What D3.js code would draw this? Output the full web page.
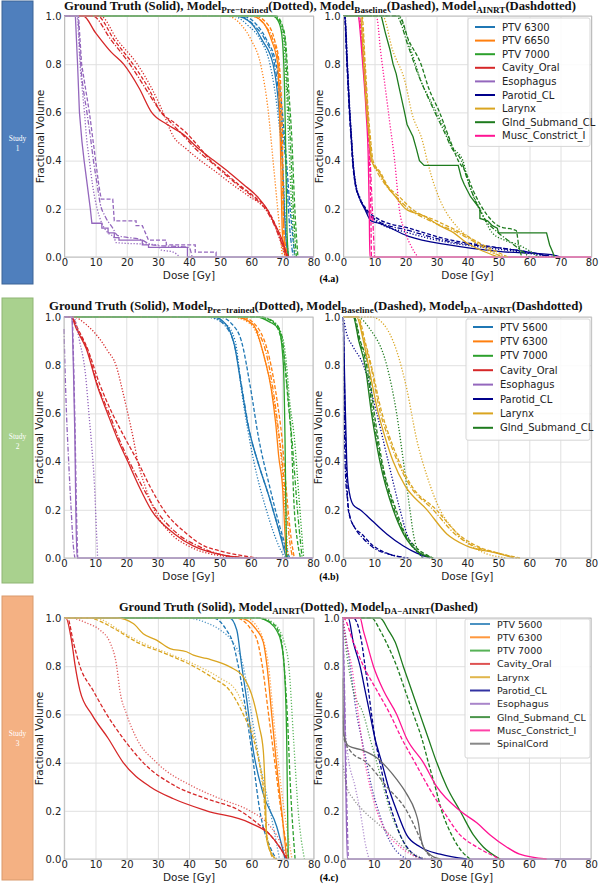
<!DOCTYPE html>
<html>
<head>
<meta charset="utf-8">
<script src="https://cdn.jsdelivr.net/npm/d3@7"></script>
<style>body{margin:0;background:#fff}</style>
</head>
<body>
<svg id="fig" width="600" height="884"></svg>
<script>
// tick labels shared by all six panels
var doseTicks = [0, 10, 20, 30, 40, 50, 60, 70, 80]
var volTicks = [0, 0.2, 0.4, 0.6, 0.8, 1.0]

// legend entries per study
var legendA = ["PTV 6300", "PTV 6650", "PTV 7000", "Cavity_Oral", "Esophagus", "Parotid_CL", "Larynx", "Glnd_Submand_CL", "Musc_Constrict_I"]
var legendB = ["PTV 5600", "PTV 6300", "PTV 7000", "Cavity_Oral", "Esophagus", "Parotid_CL", "Larynx", "Glnd_Submand_CL"]
var legendC = ["PTV 5600", "PTV 6300", "PTV 7000", "Cavity_Oral", "Larynx", "Parotid_CL", "Esophagus", "Glnd_Submand_CL", "Musc_Constrict_I", "SpinalCord"]

// DVH curves: [structure, line style, [[dose, fractional volume], ...]]
var dvhA_left = [
  ["PTV 6300", "solid",   [[0,1],[55,1],[60,0.97],[63.5,0.9],[67,0.8],[69,0.6],[70,0.4],[71,0.1],[72,0]]],
  ["PTV 6300", "dotted",  [[0,1],[54,1],[59,0.96],[63,0.9],[66,0.8],[68.5,0.6],[70,0.4],[71,0.15],[72,0]]],
  ["PTV 6300", "dashed",  [[0,1],[57,1],[62,0.96],[65,0.9],[68,0.8],[70,0.6],[71,0.45],[72.5,0.2],[74,0]]],
  ["PTV 6300", "dashdot", [[0,1],[56,1],[61,0.96],[64.5,0.9],[67.5,0.8],[69.5,0.6],[71,0.4],[72.5,0.1],[73.5,0]]],
  ["PTV 6650", "solid",   [[0,1],[60,1],[64,0.97],[66.5,0.9],[68.5,0.8],[69.3,0.5],[70,0.1],[71,0]]],
  ["PTV 6650", "dotted",  [[0,1],[52,1],[57,0.96],[60,0.9],[63,0.8],[65.5,0.6],[67,0.4],[68.5,0.2],[70,0]]],
  ["PTV 6650", "dashed",  [[0,1],[61,1],[65,0.97],[67.5,0.9],[69,0.8],[70,0.5],[70.5,0.1],[72,0]]],
  ["PTV 6650", "dashdot", [[0,1],[60,1],[64.5,0.96],[67,0.9],[68.8,0.8],[69.7,0.5],[70.5,0.1],[71.5,0]]],
  ["PTV 7000", "solid",   [[0,1],[67,1],[69,0.97],[70,0.9],[70.7,0.7],[71,0.5],[71.5,0.1],[72,0]]],
  ["PTV 7000", "dotted",  [[0,1],[67,1],[69.5,0.96],[70.5,0.9],[71.3,0.7],[72,0.5],[73,0.2],[74,0]]],
  ["PTV 7000", "dashed",  [[0,1],[68,1],[70,0.96],[71,0.9],[72,0.7],[73,0.5],[74,0.2],[75,0]]],
  ["PTV 7000", "dashdot", [[0,1],[67.5,1],[69.8,0.96],[70.8,0.9],[71.6,0.7],[72.5,0.5],[73.5,0.2],[74.5,0]]],
  ["Cavity_Oral", "solid",   [[0,1],[6,1],[10,0.93],[15,0.85],[19,0.8],[24,0.7],[28,0.6],[33,0.55],[38,0.51],[43,0.45],[48,0.4],[53,0.35],[57.6,0.3],[62,0.25],[65,0.2],[67,0.15],[69,0.1],[70.5,0.05],[71.5,0]]],
  ["Cavity_Oral", "dotted",  [[0,1],[11.5,1],[17,0.9],[23.4,0.8],[28,0.7],[31,0.62],[35,0.5],[39,0.45],[43.7,0.4],[49,0.35],[54,0.3],[59.5,0.25],[64.5,0.2],[67,0.15],[69,0.08],[71,0]]],
  ["Cavity_Oral", "dashed",  [[0,1],[10.5,1],[16,0.9],[22,0.8],[27,0.7],[31,0.6],[35,0.56],[39.5,0.51],[43,0.46],[47,0.4],[51.5,0.35],[56,0.3],[61,0.25],[65,0.2],[67.5,0.14],[69.5,0.07],[72,0]]],
  ["Cavity_Oral", "dashdot", [[0,1],[9,1],[15,0.9],[21,0.8],[26,0.7],[30,0.62],[34,0.56],[38.5,0.5],[42,0.45],[46.5,0.4],[51,0.35],[55.5,0.3],[60.5,0.25],[64.5,0.2],[67.5,0.13],[70,0.05],[71.5,0]]],
  ["Esophagus", "solid",   [[0,1],[3.5,1],[4.2,0.8],[4.8,0.6],[5.6,0.48],[6.3,0.4],[7.3,0.3],[8.3,0.2],[8.8,0.14],[12,0.14],[12,0.12],[14,0.12],[14,0.1],[16,0.1],[16,0.08],[17.5,0.08],[17.5,0.07],[25,0.07],[25,0.05],[27,0.05],[27,0.04],[39.5,0.04],[39.5,0],[80,0]]],
  ["Esophagus", "dotted",  [[0,1],[4,1],[5,0.8],[6.4,0.6],[7.2,0.48],[8,0.4],[9,0.3],[10.5,0.2],[12,0.14],[14,0.1],[16,0.08],[16.5,0.06],[30,0.05],[31,0.03],[35,0.02],[37,0]]],
  ["Esophagus", "dashed",  [[0,1],[4.5,1],[5.5,0.8],[8,0.6],[9,0.5],[10,0.4],[11,0.3],[11.8,0.24],[15.5,0.24],[16,0.15],[23,0.15],[23,0.13],[25,0.13],[27,0.07],[32.7,0.07],[32.7,0.05],[42,0.05],[42,0.02],[48.7,0.02],[48.7,0]]],
  ["Esophagus", "dashdot", [[0,1],[4.2,1],[5.2,0.8],[7.2,0.6],[8.3,0.5],[9.3,0.4],[10.5,0.3],[11.5,0.22],[13,0.17],[15.5,0.12],[17,0.09],[25,0.07],[28,0.05],[40,0.04],[41,0]]]
]

var dvhA_right = [
  ["Parotid_CL", "solid",   [[0,1],[0.4,1],[1.2,0.8],[2,0.6],[2.6,0.48],[3,0.4],[3.9,0.3],[5,0.25],[6.8,0.2],[8.9,0.15],[11.6,0.14],[21,0.086],[34,0.05],[50,0.023],[67,0.01],[70,0]]],
  ["Parotid_CL", "dotted",  [[0,1],[0.5,1],[1.3,0.8],[2.1,0.6],[2.7,0.48],[3.1,0.4],[4,0.3],[5.2,0.25],[7,0.2],[11,0.145],[21,0.1],[34,0.06],[45,0.04],[60,0.015],[66,0]]],
  ["Parotid_CL", "dashed",  [[0,1],[0.3,1],[1.1,0.8],[1.9,0.6],[2.5,0.48],[2.9,0.4],[3.8,0.3],[5,0.25],[7.3,0.2],[11.6,0.155],[21,0.12],[34,0.072],[43.6,0.051],[61,0.017],[68,0]]],
  ["Parotid_CL", "dashdot", [[0,1],[0.4,1],[1.2,0.8],[2,0.6],[2.6,0.48],[3,0.4],[3.9,0.3],[5,0.25],[7,0.2],[11,0.15],[21,0.11],[34,0.065],[45,0.045],[60,0.02],[67,0]]],
  ["Musc_Constrict_I", "solid",   [[0,1],[4.6,1],[6.2,0.8],[7.3,0.6],[8,0.4],[8.3,0.2],[8.5,0],[80,0]]],
  ["Musc_Constrict_I", "dotted",  [[0,1],[10.6,1],[12,0.85],[13.5,0.7],[15,0.55],[16.5,0.4],[18,0.2],[20,0.1],[22,0.04],[24,0]]],
  ["Musc_Constrict_I", "dashed",  [[0,1],[5,1],[6.6,0.8],[7.7,0.6],[8.4,0.4],[8.8,0.2],[9,0]]],
  ["Musc_Constrict_I", "dashdot", [[0,1],[4.8,1],[6.4,0.8],[7.5,0.6],[8.6,0.4],[9.3,0.2],[10,0]]],
  ["Larynx", "solid",   [[0,1],[5.5,1],[6.5,0.8],[7.5,0.6],[8.4,0.48],[9,0.4],[11.6,0.35],[13.7,0.3],[16.8,0.25],[20,0.2],[26,0.17],[31,0.13],[35.6,0.1],[39.6,0.06],[44,0.03],[50,0]]],
  ["Larynx", "dotted",  [[0,1],[12.6,1],[15.8,0.86],[20,0.72],[22,0.6],[25.5,0.48],[27,0.4],[28.5,0.33],[31,0.24],[36.3,0.13],[41.7,0.07],[46,0.03],[53,0]]],
  ["Larynx", "dashed",  [[0,1],[6,1],[7,0.8],[8,0.6],[8.8,0.48],[9.5,0.4],[12,0.35],[14,0.3],[18,0.25],[22,0.2],[30,0.15],[38,0.1],[45,0.05],[53,0]]],
  ["Larynx", "dashdot", [[0,1],[5.8,1],[6.8,0.8],[7.8,0.6],[8.6,0.48],[9.3,0.4],[11,0.35],[13.5,0.3],[17,0.25],[21,0.2],[28,0.15],[37,0.1],[44,0.05],[51,0]]],
  ["Glnd_Submand_CL", "solid",   [[0,1],[12.2,1],[13.5,0.93],[15,0.86],[16,0.8],[17,0.76],[18,0.7],[19.7,0.6],[20.5,0.55],[22.4,0.5],[23.5,0.45],[24.5,0.4],[26,0.38],[37,0.38],[38,0.33],[39,0.3],[41,0.25],[44,0.2],[44,0.16],[46.5,0.15],[48,0.13],[49.6,0.12],[50,0.1],[65.5,0.1],[66.5,0.05],[67.5,0.02],[68,0]]],
  ["Glnd_Submand_CL", "dotted",  [[0,1],[17.5,1],[22,0.85],[25,0.73],[28,0.65],[30,0.6],[33,0.52],[35,0.46],[38.5,0.4],[40.5,0.3],[44,0.2],[48,0.1],[52,0.07],[56.5,0.05],[63,0]]],
  ["Glnd_Submand_CL", "dashed",  [[0,1],[18,1],[21,0.9],[25,0.8],[27.5,0.7],[31,0.6],[34.5,0.48],[37,0.4],[39.5,0.35],[41.7,0.28],[46,0.18],[50.3,0.127],[55.7,0.11],[56.5,0.05],[57.5,0]]],
  ["Glnd_Submand_CL", "dashdot", [[0,1],[17,1],[21,0.87],[24,0.76],[27,0.67],[29.5,0.6],[32.5,0.52],[35,0.45],[38,0.4],[40,0.32],[43,0.22],[46,0.15],[50,0.1],[54,0.06],[60,0]]]
]

var dvhB_left = [
  ["PTV 5600", "solid",   [[0,1],[48,1],[52,0.97],[54.8,0.88],[57,0.71],[59,0.56],[62,0.41],[65.5,0.27],[68.7,0.13],[71.4,0]]],
  ["PTV 5600", "dotted",  [[0,1],[45,1],[52,0.97],[55,0.9],[57,0.7],[61,0.4],[65,0.2],[69,0.05],[71,0]]],
  ["PTV 5600", "dashed",  [[0,1],[50,1],[54,0.97],[57,0.9],[60,0.7],[62.5,0.5],[66,0.3],[70,0.1],[72.5,0]]],
  ["PTV 5600", "dashdot", [[0,1],[47,1],[52,0.96],[55,0.87],[57.5,0.68],[59.5,0.53],[62.5,0.39],[66,0.25],[69,0.12],[72,0]]],
  ["PTV 6300", "solid",   [[0,1],[55,1],[60.7,0.97],[64.4,0.83],[66.6,0.7],[68,0.56],[69,0.42],[70.3,0.28],[71,0.1],[71.5,0]]],
  ["PTV 6300", "dotted",  [[0,1],[54,1],[60,0.97],[65,0.8],[68,0.6],[70.5,0.3],[71.5,0.1],[72,0]]],
  ["PTV 6300", "dashed",  [[0,1],[57,1],[62,0.96],[66.5,0.8],[68.5,0.65],[70,0.5],[71,0.35],[72,0.2],[73,0.08],[74,0]]],
  ["PTV 6300", "dashdot", [[0,1],[56,1],[61,0.96],[65.5,0.82],[67.5,0.67],[69,0.52],[70.5,0.35],[71.5,0.2],[72.5,0.07],[73.5,0]]],
  ["PTV 7000", "solid",   [[0,1],[62,1],[66,0.98],[69,0.95],[70.5,0.8],[71,0.5],[71.3,0.2],[71.5,0]]],
  ["PTV 7000", "dotted",  [[0,1],[63,1],[68,0.97],[70.5,0.9],[71.5,0.8],[72.5,0.65],[74,0.5],[75.5,0.25],[77,0]]],
  ["PTV 7000", "dashed",  [[0,1],[63,1],[67,0.98],[70,0.9],[71,0.8],[72,0.65],[73,0.5],[74,0.2],[75,0.07],[76,0]]],
  ["PTV 7000", "dashdot", [[0,1],[63,1],[67.5,0.98],[70,0.92],[71,0.8],[72.5,0.6],[73.5,0.45],[75,0.2],[76.5,0]]],
  ["Cavity_Oral", "solid",   [[0,1],[2.3,1],[4,0.95],[7.1,0.87],[10.8,0.71],[14,0.6],[17,0.5],[20.5,0.4],[24,0.3],[28,0.2],[35.5,0.1],[41.5,0.05],[52,0.01],[60,0]]],
  ["Cavity_Oral", "dotted",  [[0,1],[3,1],[7,0.97],[10.8,0.92],[14,0.86],[16.7,0.8],[18.7,0.7],[20.5,0.6],[22.2,0.5],[23.7,0.4],[26,0.3],[29,0.2],[34.4,0.1],[40,0.05],[50,0.01],[60,0]]],
  ["Cavity_Oral", "dashed",  [[0,1],[2.5,1],[4.5,0.95],[7.5,0.87],[11.5,0.72],[15.5,0.6],[19.5,0.5],[23.7,0.4],[27.5,0.3],[32,0.2],[39.5,0.1],[45,0.05],[50,0.03],[62,0]]],
  ["Cavity_Oral", "dashdot", [[0,1],[2.4,1],[4.2,0.95],[7.3,0.87],[11,0.71],[14.5,0.6],[17.5,0.5],[21,0.4],[25,0.3],[29.5,0.2],[36.5,0.1],[43,0.05],[52,0.01],[60,0]]],
  ["Esophagus", "solid",   [[0,1],[2.5,1],[3,0.8],[3.5,0.5],[3.8,0.2],[4.2,0],[80,0]]],
  ["Esophagus", "dotted",  [[0,1],[3,1],[5,0.9],[7,0.75],[8,0.6],[9,0.45],[9.8,0.3],[10.4,0.12],[10.8,0]]],
  ["Esophagus", "dashed",  [[0,1],[2.6,1],[3.1,0.8],[3.6,0.5],[4,0.2],[4.4,0]]],
  ["Esophagus", "dashdot", [[0,0.95],[0.3,0.8],[0.8,0.6],[1.5,0.4],[2.3,0.2],[3,0.05],[3.5,0]]]
]

var dvhB_right = [
  ["Parotid_CL", "solid",   [[0,1],[0.5,0.7],[1.1,0.4],[1.6,0.3],[3.2,0.22],[5.4,0.2],[9.7,0.15],[14,0.1],[19.4,0.05],[23.7,0.02],[28,0]]],
  ["Parotid_CL", "dotted",  [[0,1],[1.1,0.93],[3,0.88],[6.5,0.8],[10.8,0.6],[14.5,0.4],[18.3,0.2],[20.5,0.1],[23,0.04],[26,0]]],
  ["Parotid_CL", "dashed",  [[0,1],[0.4,0.7],[0.9,0.4],[1.2,0.3],[1.6,0.2],[3.5,0.13],[5.9,0.1],[9.7,0.05],[14,0.02],[20,0]]],
  ["Parotid_CL", "dashdot", [[0,1],[0.3,0.6],[0.7,0.35],[1.3,0.25],[2,0.18],[4,0.12],[6.5,0.08],[10,0.04],[15,0.015],[21,0]]],
  ["Glnd_Submand_CL", "solid",   [[0,1],[3.2,1],[5,0.9],[7,0.8],[9.1,0.6],[11.8,0.4],[16.1,0.2],[19.4,0.1],[23.7,0.03],[29,0]]],
  ["Glnd_Submand_CL", "dotted",  [[0,1],[4.3,1],[8.6,0.95],[14,0.8],[17.2,0.6],[19.4,0.4],[21.5,0.2],[22.6,0.1],[24,0.03],[25.8,0]]],
  ["Glnd_Submand_CL", "dashed",  [[0,1],[3.5,1],[5.5,0.9],[8,0.8],[10,0.6],[12.5,0.4],[17,0.2],[20,0.1],[23,0.05],[29,0]]],
  ["Glnd_Submand_CL", "dashdot", [[0,1],[3.3,1],[5.2,0.9],[7.5,0.8],[9.5,0.6],[12.2,0.4],[16.5,0.2],[19.7,0.1],[23.5,0.03],[29,0]]],
  ["Larynx", "solid",   [[0,1],[4.3,1],[6.5,0.9],[8.1,0.8],[11.3,0.6],[13.5,0.5],[16.1,0.4],[19.9,0.3],[27,0.2],[33.4,0.1],[39.8,0.05],[49.5,0.02],[55,0]]],
  ["Larynx", "dotted",  [[0,1],[9,1],[13,0.97],[17.2,0.86],[20.5,0.7],[23.7,0.49],[27,0.34],[31.2,0.2],[35.5,0.12],[44,0.03],[52.7,0]]],
  ["Larynx", "dashed",  [[0,1],[4.8,1],[7,0.9],[9,0.8],[12.5,0.6],[15,0.5],[18,0.4],[22,0.3],[30,0.2],[37,0.1],[43,0.05],[50,0.02],[57,0]]],
  ["Larynx", "dashdot", [[0,1],[4.5,1],[6.8,0.9],[8.8,0.8],[12,0.6],[14.5,0.5],[17.5,0.4],[21.5,0.3],[29,0.2],[36,0.1],[42,0.05],[50,0.02],[56,0]]]
]

var dvhC_left = [
  ["PTV 5600", "solid",  [[0,1],[53,1],[55.3,0.95],[56.9,0.8],[58.5,0.66],[60.6,0.45],[63.8,0.27],[68.1,0.135],[70.8,0]]],
  ["PTV 5600", "dotted", [[0,1],[39,1],[45.6,0.98],[50,0.95],[54,0.9],[57.4,0.8],[60,0.6],[62.7,0.4],[66,0.2],[69,0]]],
  ["PTV 5600", "dashed", [[0,1],[47.8,1],[52,0.95],[54,0.9],[55.8,0.8],[58.4,0.6],[60.6,0.4],[62.7,0.2],[66,0.05],[68,0]]],
  ["PTV 6300", "solid",  [[0,1],[56.3,1],[61.7,0.95],[63.8,0.9],[65,0.8],[66.5,0.6],[68,0.4],[69.7,0.2],[71.3,0]]],
  ["PTV 6300", "dotted", [[0,1],[58,1],[62.5,0.95],[64,0.9],[65.5,0.8],[67,0.6],[69.5,0.3],[73,0]]],
  ["PTV 6300", "dashed", [[0,1],[55,1],[60,0.95],[62,0.9],[63.5,0.8],[65.5,0.6],[67.5,0.4],[69.5,0.2],[72,0]]],
  ["PTV 7000", "solid",  [[0,1],[62,1],[66,0.98],[68,0.95],[69.5,0.9],[70.5,0.8],[71.3,0.5],[71.8,0]]],
  ["PTV 7000", "dotted", [[0,1],[63,1],[67,0.98],[69,0.95],[70.5,0.9],[72,0.8],[73.5,0.5],[75,0.2],[77,0]]],
  ["PTV 7000", "dashed", [[0,1],[62,1],[66.5,0.98],[68.5,0.95],[69.7,0.9],[70.5,0.8],[71.5,0.6],[72.5,0.3],[74,0]]],
  ["Cavity_Oral", "solid",  [[0,1],[0.5,1],[2.4,0.9],[3.5,0.8],[5,0.7],[8.8,0.6],[14.1,0.5],[18.9,0.4],[27.5,0.3],[35,0.25],[45.6,0.2],[59.5,0.15],[66,0.1],[69,0.05],[71.3,0]]],
  ["Cavity_Oral", "dotted", [[0,1],[2,1],[7,0.98],[11.4,0.95],[14.6,0.9],[16.8,0.8],[17.8,0.7],[20,0.6],[23.2,0.5],[29.6,0.4],[41.4,0.3],[50,0.25],[59.5,0.2],[65,0.15],[68,0.1],[70,0.05],[72,0]]],
  ["Cavity_Oral", "dashed", [[0,1],[1,1],[2.9,0.9],[5,0.8],[9.2,0.7],[13.6,0.6],[18.9,0.5],[25.3,0.4],[36,0.3],[45.6,0.25],[56.3,0.2],[61.7,0.15],[66,0.1],[69,0.05],[71.5,0]]],
  ["Larynx", "solid",  [[0,1],[16.8,1],[22.1,0.977],[25.3,0.935],[29.6,0.908],[33.9,0.873],[39.2,0.86],[41.4,0.846],[45.6,0.832],[53.1,0.797],[57.4,0.756],[60.6,0.66],[62.5,0.55],[63.8,0.45],[64.5,0.25],[64.9,0.08],[67,0.01],[68,0]]],
  ["Larynx", "dotted", [[0,1],[10,1],[14,0.98],[17.5,0.95],[24.5,0.9],[34,0.85],[43,0.8],[50,0.75],[55,0.7],[58.5,0.6],[61,0.5],[62.5,0.4],[64,0.25],[65,0.1],[67.5,0]]],
  ["Larynx", "dashed", [[0,1],[8.2,1],[12.5,0.98],[16.8,0.95],[23.2,0.9],[32.8,0.85],[41.4,0.8],[47.8,0.75],[53,0.7],[57.4,0.6],[60.6,0.5],[62.5,0.4],[63.8,0.3],[64.9,0.1],[67,0]]]
]

var dvhC_right = [
  ["Esophagus", "solid",  [[0,1],[0.5,0.7],[1,0.3],[1.5,0],[80,0]]],
  ["Esophagus", "dotted", [[0,1],[0.5,0.62],[1.5,0.45],[4,0.3],[5.6,0.2],[7.5,0.05],[8.5,0]]],
  ["Esophagus", "dashed", [[0,1],[0.6,0.7],[1.2,0.3],[1.8,0]]],
  ["Parotid_CL", "solid",  [[0,1],[1.8,1],[3.4,0.9],[5.6,0.8],[7.2,0.7],[8.8,0.6],[10.4,0.5],[12.6,0.4],[14.7,0.3],[17.4,0.2],[20.6,0.1],[25,0.05],[31.4,0.02],[40,0]]],
  ["Parotid_CL", "dotted", [[0,1],[2.4,0.8],[4.5,0.6],[6.1,0.5],[7.7,0.4],[9.3,0.3],[11.5,0.2],[14.2,0.1],[16.3,0.05],[20.6,0]]],
  ["Parotid_CL", "dashed", [[0,1],[3.4,1],[6.1,0.9],[7.2,0.8],[8.3,0.7],[9.3,0.6],[10.4,0.5],[12,0.4],[13.6,0.3],[15.8,0.2],[18.5,0.1],[22.8,0.02],[26,0]]],
  ["Glnd_Submand_CL", "solid",  [[0,1],[12,1],[14.7,0.95],[16.9,0.9],[19.5,0.8],[22.2,0.7],[24.9,0.6],[27.6,0.5],[30.3,0.4],[33.5,0.3],[37.8,0.2],[42.1,0.1],[45.3,0.05],[50.7,0]]],
  ["Glnd_Submand_CL", "dotted", [[0,1],[1.3,0.85],[3.4,0.7],[6.7,0.6],[8.8,0.5],[11,0.4],[13.1,0.3],[15.3,0.2],[18.5,0.1],[20.5,0.05],[25,0]]],
  ["Glnd_Submand_CL", "dashed", [[0,1],[9.3,1],[12,0.95],[14,0.9],[17.4,0.8],[20.1,0.7],[22.8,0.6],[25.5,0.5],[27.6,0.4],[29.8,0.3],[31.9,0.2],[35.1,0.1],[37.3,0.05],[41,0]]],
  ["Musc_Constrict_I", "solid",  [[0,1],[5.6,1],[6.6,0.95],[7.7,0.9],[9.9,0.8],[13.1,0.7],[17.4,0.6],[20.6,0.5],[26,0.4],[30.3,0.3],[37.8,0.2],[43.2,0.15],[47.5,0.1],[52.8,0.05],[57,0.02],[65.7,0]]],
  ["Musc_Constrict_I", "dotted", [[0,1],[1.2,0.9],[2.9,0.8],[5,0.6],[7.2,0.4],[8.8,0.3],[11,0.2],[14.7,0.1],[18.5,0.05],[25,0]]],
  ["Musc_Constrict_I", "dashed", [[0,1],[0.2,1],[3.4,0.9],[6.7,0.8],[11,0.7],[15.3,0.6],[19,0.5],[23.3,0.4],[27.6,0.3],[32.4,0.2],[37.8,0.1],[43.2,0.05],[50.7,0]]],
  ["SpinalCord", "solid",  [[0,0.75],[0.3,0.52],[1.8,0.47],[6.7,0.45],[11,0.42],[14.2,0.38],[17.4,0.33],[20.6,0.27],[23.3,0.2],[24.4,0.15],[25,0.1],[26,0.05],[28,0.02],[31.4,0]]],
  ["SpinalCord", "dotted", [[0,0.4],[1.3,0.3],[3.4,0.25],[6.7,0.2],[11,0.15],[15.3,0.1],[19.5,0.05],[23,0.02],[27,0]]],
  ["SpinalCord", "dashed", [[0,0.6],[0.4,0.5],[2.4,0.45],[7.7,0.4],[14.2,0.3],[20.6,0.2],[24.4,0.1],[26,0.05],[29,0]]]
]

var ptvPalette = ["#1f77b4", "#ff7f0e", "#2ca02c"]
var organColor = {
  "Cavity_Oral": "#d62728", "Esophagus": "#9467bd", "Parotid_CL": "#00008b",
  "Larynx": "#daa520", "Glnd_Submand_CL": "#1e7b1e", "Musc_Constrict_I": "#ff1493",
  "SpinalCord": "#6b6b6b"
}
var dashes = {solid: null, dotted: "1.2,1.8", dashed: "4,2", dashdot: "5,1.8,1.2,1.8"}

var svg = d3.select("#fig")
var sans = "'DejaVu Sans', sans-serif"
var serif = "'Liberation Serif', 'Times New Roman', serif"

function colorOf(name, legend) {
  if (name.indexOf("PTV") === 0) return ptvPalette[legend.indexOf(name)]
  return organColor[name]
}

// side label box for each study
function studyBox(y0, y1, fill, stroke, num) {
  svg.append("rect")
    .attr("x", 2).attr("y", y0)
    .attr("width", 31).attr("height", y1 - y0)
    .attr("fill", fill).attr("stroke", stroke).attr("stroke-width", 1)
  var cy = (y0 + y1) / 2
  svg.append("text").attr("x", 17.5).attr("y", cy - 2)
    .attr("text-anchor", "middle").attr("font-family", serif)
    .attr("font-size", "7.5px").attr("fill", "#fff").text("Study")
  svg.append("text").attr("x", 17.5).attr("y", cy + 8)
    .attr("text-anchor", "middle").attr("font-family", serif)
    .attr("font-size", "7.5px").attr("fill", "#fff").text(num)
}

// title with subscripts, scaled so it spans xl..xr
function title(parts, xl, xr, yb) {
  var t = svg.append("text").attr("y", yb)
    .attr("font-family", serif).attr("font-weight", "bold").attr("fill", "#111")
  function build(fs) {
    t.selectAll("*").remove()
    t.attr("x", xl).attr("font-size", fs + "px")
    var prevSub = false
    parts.forEach(function(p) {
      var isSub = typeof p !== "string"
      var dy = isSub ? (prevSub ? 0 : fs * 0.25) : (prevSub ? -fs * 0.25 : 0)
      t.append("tspan").attr("dy", dy)
        .attr("font-size", isSub ? (fs * 0.72) + "px" : fs + "px")
        .text(isSub ? p[0] : p)
      prevSub = isSub
    })
  }
  build(13)
  var len = t.node().getComputedTextLength()
  build(13 * (xr - xl) / len)
}

function panel(cfg) {
  var x = d3.scaleLinear().domain([0, 80]).range([cfg.x0, cfg.x1])
  var y = d3.scaleLinear().domain([0, 1]).range([cfg.yb, cfg.yt])
  var h = cfg.yb - cfg.yt, w = cfg.x1 - cfg.x0
  var g = svg.append("g")

  // grid
  g.append("g").attr("transform", "translate(0," + cfg.yb + ")")
    .call(d3.axisBottom(x).tickValues(doseTicks).tickSize(-h).tickFormat(""))
    .call(function(a) { a.select(".domain").remove(); a.selectAll("line").attr("stroke", "#e0e0e0") })
  g.append("g").attr("transform", "translate(" + cfg.x0 + ",0)")
    .call(d3.axisLeft(y).tickValues(volTicks).tickSize(-w).tickFormat(""))
    .call(function(a) { a.select(".domain").remove(); a.selectAll("line").attr("stroke", "#e0e0e0") })

  // curves
  var clipId = "clip" + cfg.id
  svg.append("clipPath").attr("id", clipId).append("rect")
    .attr("x", cfg.x0 - 1).attr("y", cfg.yt - 2).attr("width", w + 2).attr("height", h + 3)
  var cg = g.append("g").attr("clip-path", "url(#" + clipId + ")")
  cfg.curves.forEach(function(c) {
    var pts = c[2]
    var stepped = pts.some(function(p, i) { return i > 0 && p[0] === pts[i - 1][0] })
    var line = d3.line()
      .x(function(d) { return x(d[0]) })
      .y(function(d) { return y(d[1]) })
      .curve(stepped ? d3.curveLinear : d3.curveMonotoneX)
    cg.append("path").attr("d", line(pts))
      .attr("fill", "none")
      .attr("stroke", colorOf(c[0], cfg.legend))
      .attr("stroke-width", 1.3)
      .attr("stroke-dasharray", dashes[c[1]])
      .attr("opacity", c[1] === "dotted" ? cfg.dotAlpha : 1)
  })

  // frame
  g.append("rect").attr("x", cfg.x0).attr("y", cfg.yt).attr("width", w).attr("height", h)
    .attr("fill", "none").attr("stroke", "#bdbdbd").attr("stroke-width", 1)

  // tick labels
  g.append("g").attr("transform", "translate(0," + cfg.yb + ")")
    .call(d3.axisBottom(x).tickValues(doseTicks).tickSize(0).tickPadding(2))
    .call(function(a) {
      a.select(".domain").remove()
      a.selectAll("text").attr("font-family", sans).attr("font-size", "10px").attr("fill", "#222")
    })
  g.append("g").attr("transform", "translate(" + cfg.x0 + ",0)")
    .call(d3.axisLeft(y).tickValues(volTicks).tickSize(0).tickPadding(3).tickFormat(d3.format(".1f")))
    .call(function(a) {
      a.select(".domain").remove()
      a.selectAll("text").attr("font-family", sans).attr("font-size", "10px").attr("fill", "#222")
    })

  // axis labels
  svg.append("text").attr("x", (cfg.x0 + cfg.x1) / 2).attr("y", cfg.yb + 21.5)
    .attr("text-anchor", "middle").attr("font-family", sans).attr("font-size", "10.5px")
    .attr("fill", "#222").text("Dose [Gy]")
  svg.append("text")
    .attr("transform", "translate(" + (cfg.x0 - 21) + "," + ((cfg.yt + cfg.yb) / 2) + ") rotate(-90)")
    .attr("text-anchor", "middle").attr("font-family", sans).attr("font-size", "10.5px")
    .attr("fill", "#222").text("Fractional Volume")

  // legend
  if (cfg.showLegend) {
    var L = cfg.leg
    var lg = svg.append("g")
    lg.append("rect").attr("x", L.bx).attr("y", L.by).attr("width", L.bw)
      .attr("height", L.dy * cfg.legend.length + 6).attr("rx", 2)
      .attr("fill", "#fff").attr("fill-opacity", 0.85).attr("stroke", "#d6d6d6")
    cfg.legend.forEach(function(name, i) {
      var yy = L.y + i * L.dy
      lg.append("line").attr("x1", L.x).attr("x2", L.x + 20).attr("y1", yy).attr("y2", yy)
        .attr("stroke", colorOf(name, cfg.legend)).attr("stroke-width", 2)
        .attr("opacity", cfg.legAlpha)
      lg.append("text").attr("x", L.x + 27).attr("y", yy + 3.5)
        .attr("font-family", sans).attr("font-size", L.fs).attr("fill", "#222").text(name)
    })
  }
}

// ---- Study 1 ----
studyBox(1, 284, "#4f7fbd", "#3c6496", "1")
title(["Ground Truth (Solid), Model", ["Pre\u2212trained"], "(Dotted), Model", ["Baseline"], "(Dashed), Model", ["AINRT"], "(Dashdotted)"], 64, 576, 10)
panel({id: "a1", x0: 64.5, x1: 313.5, yt: 16, yb: 257, curves: dvhA_left, legend: legendA, dotAlpha: 1})
panel({id: "a2", x0: 343.5, x1: 591.5, yt: 16, yb: 257, curves: dvhA_right, legend: legendA, dotAlpha: 1, legAlpha: 1,
  showLegend: true, leg: {bx: 468, by: 18, bw: 122, x: 475, y: 27, dy: 13.6, fs: "10px"}})
svg.append("text").attr("x", 329).attr("y", 282).attr("text-anchor", "middle")
  .attr("font-family", serif).attr("font-weight", "bold").attr("font-size", "10px").text("(4.a)")

// ---- Study 2 ----
studyBox(298, 583, "#a9d18e", "#8fb574", "2")
title(["Ground Truth (Solid), Model", ["Pre\u2212trained"], "(Dotted), Model", ["Baseline"], "(Dashed), Model", ["DA\u2212AINRT"], "(Dashdotted)"], 49, 583, 310)
panel({id: "b1", x0: 64, x1: 313, yt: 317, yb: 558, curves: dvhB_left, legend: legendB, dotAlpha: 1})
panel({id: "b2", x0: 343.3, x1: 591.3, yt: 317, yb: 558, curves: dvhB_right, legend: legendB, dotAlpha: 1, legAlpha: 1,
  showLegend: true, leg: {bx: 466, by: 319, bw: 124, x: 473, y: 327, dy: 14.4, fs: "10px"}})
svg.append("text").attr("x", 329).attr("y", 580).attr("text-anchor", "middle")
  .attr("font-family", serif).attr("font-weight", "bold").attr("font-size", "10px").text("(4.b)")

// ---- Study 3 ----
studyBox(596, 880, "#f4b183", "#d99a6c", "3")
title(["Ground Truth (Solid), Model", ["AINRT"], "(Dotted), Model", ["DA\u2212AINRT"], "(Dashed)"], 119, 478, 611)
panel({id: "c1", x0: 64.3, x1: 313.8, yt: 618, yb: 859, curves: dvhC_left, legend: legendC, dotAlpha: 0.75})
panel({id: "c2", x0: 342.7, x1: 591, yt: 618, yb: 859, curves: dvhC_right, legend: legendC, dotAlpha: 0.75, legAlpha: 0.8,
  showLegend: true, leg: {bx: 465, by: 619, bw: 125, x: 470, y: 624, dy: 13.3, fs: "9.5px"}})
svg.append("text").attr("x", 329).attr("y", 881).attr("text-anchor", "middle")
  .attr("font-family", serif).attr("font-weight", "bold").attr("font-size", "10px").text("(4.c)")
</script>
</body>
</html>
